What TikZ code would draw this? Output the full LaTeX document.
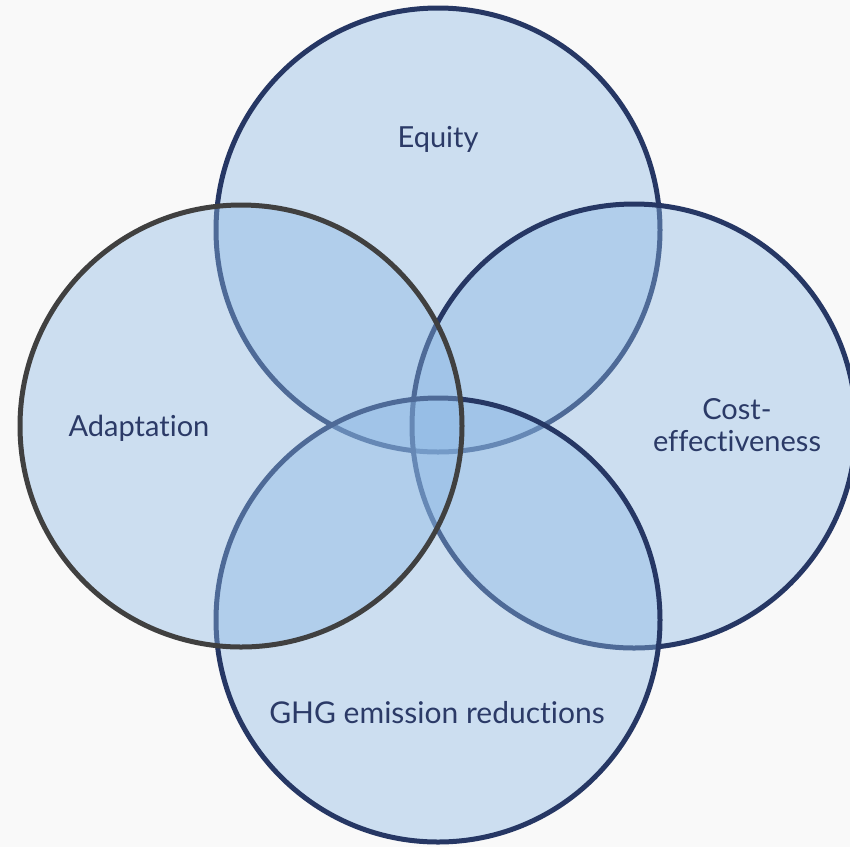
\documentclass[tikz,border=0pt]{standalone}
\usepackage{fontspec}
\setmainfont{Lato}[Ligatures=NoCommon]
\usepackage{xcolor}
\usepackage{tikz}
\usetikzlibrary{positioning}

\definecolor{bgcol}{RGB}{249,249,249}
\definecolor{ringfill}{RGB}{138,183,228}
\definecolor{ringnavy}{RGB}{38,55,100}
\definecolor{ringgray}{RGB}{64,64,64}
\definecolor{labelcol}{RGB}{43,58,103}

\begin{document}
\begin{tikzpicture}[x=1pt, y=-1pt,
    ring/.style={fill=ringfill, fill opacity=0.4, draw=ringnavy, draw opacity=1, line width=5pt},
    label/.style={text=labelcol, font=\fontsize{29}{32}\selectfont, inner sep=0pt}]
  \useasboundingbox (0,0) rectangle (850,847);
  \fill[bgcol] (0,0) rectangle (850,847);
  % the four sets, drawn back to front
  \draw[ring] (438,230) circle [radius=222pt];
  \draw[ring] (634,426) circle [radius=222pt];
  \draw[ring] (438,620) circle [radius=222pt];
  \draw[ring, draw=ringgray] (241,426) circle [radius=221pt];
  % labels
  \node[label, anchor=base] (equity) at (438,147) {Equity};
  \node[label, anchor=base] (adapt) at (139,436) {Adaptation};
  \node[label, align=center] (cost) at (737,425) {Cost-\\effectiveness};
  \node[label, anchor=base, font=\fontsize{30}{32}\selectfont] (ghg) at (437,723) {GHG emission reductions};
\end{tikzpicture}
\end{document}
